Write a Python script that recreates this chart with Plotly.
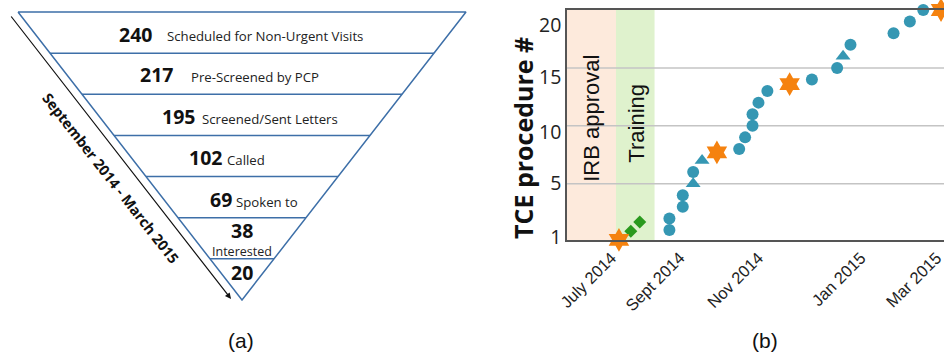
import plotly.graph_objects as go

# ---------------- Panel (a): recruitment funnel ----------------
stage_counts = [240, 217, 195, 102, 69, 38, 20]
stage_labels = ["Scheduled for Non-Urgent Visits", "Pre-Screened by PCP",
                "Screened/Sent Letters", "Called", "Spoken to", "Interested", ""]
funnel_period = "September 2014 - March 2015"

# ---------------- Panel (b): TCE procedures over time ----------------
circle_dates = ["2014-08-25", "2014-08-25", "2014-09-03", "2014-09-03", "2014-09-10",
                "2014-10-11", "2014-10-15", "2014-10-20", "2014-10-20", "2014-10-24",
                "2014-10-30", "2014-11-29", "2014-12-16", "2014-12-25", "2015-01-23",
                "2015-02-03", "2015-02-12"]
circle_nums = [1, 2, 3, 4, 6, 8, 9, 10, 11, 12, 13, 14, 15, 17, 18, 19, 20]
triangle_dates = ["2014-09-10", "2014-09-16", "2014-12-20"]
triangle_nums = [5, 7, 16]
star_dates = ["2014-07-22", "2014-09-26", "2014-11-14", "2015-02-24"]
star_nums = [0.15, 7.7, 13.6, 20.0]
diamond_dates = ["2014-07-30", "2014-08-05"]
diamond_nums = [0.9, 1.7]
irb_period = ["2014-06-17", "2014-07-20"]
training_period = ["2014-07-20", "2014-08-15"]
x_range = ["2014-06-17", "2015-02-26"]
x_tick_dates = ["2014-07-17", "2014-09-01", "2014-10-24", "2015-01-01", "2015-02-21"]
x_tick_labels = ["July 2014", "Sept 2014", "Nov 2014", "Jan 2015", "Mar 2015"]
y_tick_pos = [0.4, 5.05, 9.45, 14.2, 18.7]   # where the labels sit in the source figure
y_tick_labels = ["1", "5", "10", "15", "20"]
y_grid = [5, 10, 15]

W, H = 944, 353
fig = go.Figure()

# ---- funnel geometry (level units) ----
n = len(stage_counts)
fx, fy = [-1, 1, 0, -1], [0, 0, n, 0]
for k in range(1, n):
    half = (n - k) / n
    fx += [None, -half, half]
    fy += [None, k, k]
fig.add_trace(go.Scatter(x=fx, y=fy, mode="lines", xaxis="x2", yaxis="y2",
                         line=dict(color="#3d6fa8", width=1.5), hoverinfo="skip",
                         showlegend=False))

# pixel -> funnel units helpers (layout only)
def pu(p):
    return (p - 242) / 224.0

def pk(p):
    return (p - 12) / (288.0 / 7)

num_font = dict(family="Open Sans", size=19.5, color="#111")
lab_font = dict(family="Open Sans", size=13.2, color="#222")
num_end = [153, 174, 196, 223, 233]
lab_start = [166, 190, 201, 226, 235]
row_y = [34, 75, 117, 158, 200]
anns = []
for i in range(5):
    anns.append(dict(x=pu(num_end[i]), y=pk(row_y[i]), xref="x2", yref="y2",
                     text=f"<b>{stage_counts[i]}</b>", showarrow=False, borderpad=0,
                     xanchor="right", yanchor="middle", font=num_font))
    anns.append(dict(x=pu(lab_start[i]), y=pk(row_y[i] + 2), xref="x2", yref="y2",
                     text=stage_labels[i], showarrow=False, borderpad=0,
                     xanchor="left", yanchor="middle", font=lab_font))
anns.append(dict(x=0, y=pk(231), xref="x2", yref="y2", text=f"<b>{stage_counts[5]}</b>",
                 showarrow=False, borderpad=0, font=num_font))
anns.append(dict(x=0, y=pk(252), xref="x2", yref="y2", text=stage_labels[5],
                 showarrow=False, borderpad=0,
                 font=dict(family="Open Sans", size=12.5, color="#222")))
anns.append(dict(x=0, y=pk(273), xref="x2", yref="y2", text=f"<b>{stage_counts[6]}</b>",
                 showarrow=False, borderpad=0, font=num_font))
# time arrow
anns.append(dict(x=pu(231), y=pk(299), xref="x2", yref="y2",
                 ax=pu(10), ay=pk(15), axref="x2", ayref="y2", text="",
                 showarrow=True, arrowhead=2, arrowsize=1, arrowwidth=1.2,
                 arrowcolor="#111"))
anns.append(dict(x=pu(110), y=pk(178), xref="x2", yref="y2", text=f"<b>{funnel_period}</b>",
                 textangle=52, showarrow=False,
                 font=dict(family="Open Sans", size=14.5, color="#111")))

# ---- panel (b) traces ----
teal = "#3597b3"
fig.add_trace(go.Scatter(x=circle_dates, y=circle_nums, mode="markers", cliponaxis=False,
                         marker=dict(symbol="circle", size=12, color=teal), showlegend=False))
fig.add_trace(go.Scatter(x=triangle_dates, y=triangle_nums, mode="markers", cliponaxis=False,
                         marker=dict(symbol="triangle-up", size=13, color=teal), showlegend=False))
fig.add_trace(go.Scatter(x=diamond_dates, y=diamond_nums, mode="markers", cliponaxis=False,
                         marker=dict(symbol="diamond", size=10, color="#2a9a1e"), showlegend=False))
fig.add_trace(go.Scatter(x=star_dates, y=star_nums, mode="markers", cliponaxis=False,
                         marker=dict(symbol="hexagram", size=18, color="#f5820f"), showlegend=False))

shapes = [
    dict(type="rect", xref="x", yref="y domain", x0=irb_period[0], x1=irb_period[1],
         y0=0, y1=1, fillcolor="#fdeadc", line=dict(width=0), layer="below"),
    dict(type="rect", xref="x", yref="y domain", x0=training_period[0], x1=training_period[1],
         y0=0, y1=1, fillcolor="#dff2cd", line=dict(width=0), layer="below"),
]
for g in y_grid:
    shapes.append(dict(type="line", xref="x domain", yref="y", x0=0, x1=1, y0=g, y1=g,
                       line=dict(color="#c4c4c4", width=1.5), layer="below"))

anns.append(dict(x="2014-07-03", y=10.67, xref="x", yref="y", text="IRB approval",
                 textangle=-90, showarrow=False, xanchor="center", yanchor="middle",
                 font=dict(family="Liberation Sans", size=22, color="#111")))
anns.append(dict(x="2014-08-03", y=10.25, xref="x", yref="y", text="Training",
                 textangle=-90, showarrow=False, xanchor="center", yanchor="middle",
                 font=dict(family="Liberation Sans", size=22, color="#111")))
anns.append(dict(x=523 / W, y=(H - 138) / H, xref="paper", yref="paper",
                 text="<b>TCE procedure #</b>", textangle=-90, showarrow=False,
                 xanchor="center", yanchor="middle",
                 font=dict(family="Open Sans", size=25, color="#111")))
anns.append(dict(x=241 / W, y=(H - 340) / H, xref="paper", yref="paper", text="(a)",
                 showarrow=False, xanchor="center", yanchor="middle",
                 font=dict(family="Liberation Sans", size=21, color="#111")))
anns.append(dict(x=765 / W, y=(H - 340) / H, xref="paper", yref="paper", text="(b)",
                 showarrow=False, xanchor="center", yanchor="middle",
                 font=dict(family="Liberation Sans", size=21, color="#111")))

fig.update_layout(
    template="none",
    width=W, height=H, margin=dict(l=0, r=0, t=0, b=0, pad=0), autosize=False,
    paper_bgcolor="white", plot_bgcolor="white",
    showlegend=False, shapes=shapes, annotations=anns,
    xaxis=dict(type="date", domain=[567 / W, 1], range=x_range, tickvals=x_tick_dates,
               ticktext=x_tick_labels, tickangle=-45, showgrid=False, zeroline=False,
               showline=True, linecolor="#555", linewidth=1.5, mirror=True, ticks="",
               automargin=False, ticklabeloverflow="allow",
               tickfont=dict(family="Liberation Sans", size=16.5, color="#222")),
    yaxis=dict(domain=[113 / H, (H - 10) / H], range=[0.136, 20.0], tickvals=y_tick_pos,
               ticktext=y_tick_labels, showgrid=False, zeroline=False, showline=True,
               linecolor="#555", linewidth=1.5, ticks="", automargin=False,
               tickfont=dict(family="Open Sans", size=19.5, color="#222")),
    xaxis2=dict(domain=[0, 0.5], range=[-1.0804, 1.0268], visible=False, anchor="y2",
                automargin=False),
    yaxis2=dict(domain=[0, 1], range=[8.289, -0.2917], visible=False, anchor="x2",
                automargin=False),
)

fig.write_html("out.html")
